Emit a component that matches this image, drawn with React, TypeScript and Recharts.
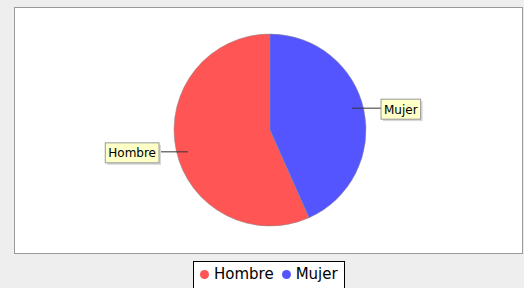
import { PieChart, Pie, Cell, Legend } from "recharts"

const categories = ["Hombre", "Mujer"]
const counts = [17, 13]
const colors = ["#ff5555", "#5555ff"]

const data = categories.map((name, i) => ({ name, value: counts[i] }))

const RAD = Math.PI / 180
const FONT = "'DejaVu Sans', Verdana, sans-serif"

let ctx: CanvasRenderingContext2D | null = null
const textWidth = (s: string, size: number) => {
    if (!ctx) ctx = document.createElement("canvas").getContext("2d")
    if (!ctx) return s.length * size * 0.6
    ctx.font = `${size}px ${FONT}`
    return ctx.measureText(s).width
}

// link line runs flat from inside the slice out to a box at a fixed gap
const renderLabel = (props: any) => {
    const { cx, cy, midAngle, outerRadius, name } = props
    const cos = Math.cos(-midAngle * RAD)
    const sin = Math.sin(-midAngle * RAD)
    const left = cos < 0
    const py = cy + (outerRadius + 9) * sin
    const px = cx + (outerRadius - 12) * cos
    const w = textWidth(name, 12) + 6
    const h = 20
    const bx = left ? cx - 111 - w : cx + 111
    const by = py - h / 2 + 1
    const lineEnd = left ? bx + w : bx
    return (
        <g>
            <line x1={px} y1={py} x2={lineEnd} y2={py} stroke="#333" strokeWidth={1} />
            <rect x={bx + 2} y={by + 2} width={w} height={h} fill="#d8d8d8" />
            <rect x={bx} y={by} width={w} height={h} fill="#ffffc8" stroke="#999" strokeWidth={1} />
            <text x={bx + w / 2} y={by + 14.5} textAnchor="middle" fontSize={12} fontFamily={FONT} fill="#000">
                {name}
            </text>
        </g>
    )
}

const renderLegend = () => (
    <div
        style={{
            display: "inline-flex",
            alignItems: "center",
            border: "1px solid #000",
            background: "#ffffff",
            padding: "2px 6px 4px 6px",
            fontFamily: FONT,
            fontSize: 15,
            color: "#000",
            lineHeight: "20px",
        }}
    >
        {categories.map((c, i) => (
            <span key={c} style={{ display: "inline-flex", alignItems: "center", marginRight: i === 0 ? 8 : 0 }}>
                <span
                    style={{
                        display: "inline-block",
                        width: 9,
                        height: 9,
                        borderRadius: "50%",
                        background: colors[i],
                        marginRight: 5,
                    }}
                />
                {c}
            </span>
        ))}
    </div>
)

export default function App() {
    return (
        <div style={{ position: "relative", width: 524, height: 288, background: "#eeeeee", overflow: "hidden" }}>
            <style>{"body{margin:0}"}</style>
            <div
                style={{
                    position: "absolute",
                    left: 14,
                    top: 7,
                    width: 507,
                    height: 245,
                    background: "#ffffff",
                    border: "1px solid #999999",
                }}
            />
            <div style={{ position: "absolute", left: 0, top: 0 }}>
                <PieChart width={524} height={288} margin={{ top: 0, right: 0, bottom: 0, left: 0 }}>
                    <Pie
                        data={data}
                        dataKey="value"
                        nameKey="name"
                        cx={270}
                        cy={130}
                        outerRadius={96}
                        startAngle={90}
                        endAngle={450}
                        stroke="#888888"
                        strokeWidth={0.5}
                        label={renderLabel}
                        labelLine={false}
                        isAnimationActive={false}
                    >
                        {data.map((d, i) => (
                            <Cell key={d.name} fill={colors[i]} />
                        ))}
                    </Pie>
                    <Legend
                        content={renderLegend}
                        wrapperStyle={{ position: "absolute", left: 193, top: 261, width: "auto" }}
                    />
                </PieChart>
            </div>
        </div>
    )
}
